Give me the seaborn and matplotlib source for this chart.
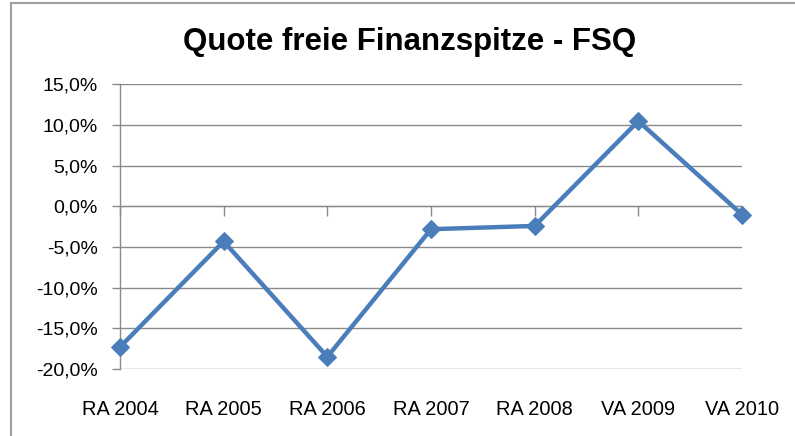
import matplotlib
matplotlib.use("Agg")
import matplotlib.pyplot as plt
import matplotlib.patches as mpatches
from matplotlib.ticker import FuncFormatter, MultipleLocator
import numpy as np
import pandas as pd
import seaborn as sns

# data
periods = ["RA 2004", "RA 2005", "RA 2006", "RA 2007", "RA 2008", "VA 2009", "VA 2010"]
fsq = [-0.173, -0.043, -0.185, -0.028, -0.024, 0.105, -0.010]
title = "Quote freie Finanzspitze - FSQ"

sns.set_style("white")
plt.rcParams["font.family"] = ["Liberation Sans", "DejaVu Sans"]

data = pd.DataFrame({"pos": np.arange(len(periods)), "fsq": fsq})

grid_col = "#8a8a8a"
line_col = "#4a7ebb"

fig = plt.figure(figsize=(7.95, 4.36), dpi=100)
W, H = 795, 436
ax = fig.add_axes([120 / W, (H - 369) / H, (742 - 120) / W, (369 - 84.5) / H])

# chart border like the excel chart area
fig.patches.append(mpatches.Rectangle((11 / W, -0.1), 1.2, 1.1 - 3 / H, transform=fig.transFigure,
                                      fill=False, edgecolor="#a0a0a0", linewidth=1.5))

sns.lineplot(data=data, x="pos", y="fsq", ax=ax, color=line_col, linewidth=3.2,
             marker="D", markersize=9, markeredgecolor=line_col, clip_on=False, zorder=5)

ax.set_xlim(0, len(periods) - 1)
ax.set_ylim(-0.20, 0.15)
ax.yaxis.set_major_locator(MultipleLocator(0.05))
ax.yaxis.set_major_formatter(FuncFormatter(lambda v, p: f"{v * 100:.1f}".replace(".", ",") + "%"))
ax.grid(axis="y", color=grid_col, linewidth=1.0)
ax.grid(axis="x", visible=False)
ax.set_axisbelow(True)

for side in ["top", "right", "bottom"]:
    ax.spines[side].set_visible(False)
ax.spines["left"].set_color(grid_col)
ax.spines["left"].set_linewidth(1.0)

ax.tick_params(axis="y", direction="out", length=6, width=1, color=grid_col, pad=10,
               labelsize=14, labelcolor="black", left=True)
ax.set_xticks(data["pos"])
ax.set_xticklabels(periods)
ax.tick_params(axis="x", length=0, pad=22, labelsize=14.4, labelcolor="black")
ax.set_xlabel("")
ax.set_ylabel("")

# horizontal axis crossing at 0 with tick marks pointing down
sec = ax.secondary_xaxis(0.20 / 0.35)
sec.set_xticks(data["pos"])
sec.set_xticklabels([""] * len(periods))
sec.tick_params(direction="in", length=7, width=1, color=grid_col)
sec.spines["bottom"].set_color(grid_col)
sec.spines["bottom"].set_linewidth(1.0)

fig.text(409.5 / W, 1 - 42 / H, title, ha="center", va="center", fontsize=22.5,
         fontweight="bold", color="black")

fig.savefig("out.png", dpi=100)
plt.close(fig)
